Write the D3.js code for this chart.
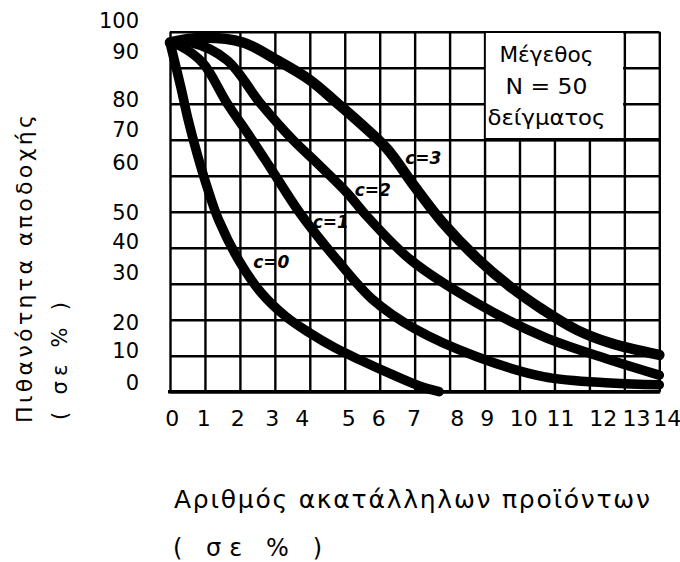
<!DOCTYPE html>
<html>
<head>
<meta charset="utf-8">
<script src="https://cdn.jsdelivr.net/npm/d3@7"></script>
<style>
  html, body { margin: 0; padding: 0; background: #fff; }
  svg { display: block; }
  text { font-family: "DejaVu Sans", "Liberation Sans", sans-serif; fill: #000; }
</style>
</head>
<body>
<script>
// ---------------- data ----------------
const xTickLabels = ["0","1","2","3","4","5","6","7","8","9","10","11","12","13","14"];
const yTickLabels = [0, 10, 20, 30, 40, 50, 60, 70, 80, 90, 100];
const curveNames = ["c=0", "c=1", "c=2", "c=3"];

// defective % (x)  vs  probability of acceptance % (y)
const c0 = [[0,97],[0.31,84.6],[0.52,75.5],[0.77,66.3],[1.06,56.9],[1.4,47.5],[2.0,36],[2.6,27.6],[3.3,21],[4.0,16.3],[4.7,12.3],[5.44,8.8],[6.3,5],[7.16,1.5],[7.7,0]];
const c1 = [[0,97],[0.3,96],[0.94,91.3],[1.63,80.2],[2.29,70.8],[2.86,62.4],[3.72,49.6],[4.78,36.6],[5.81,25.5],[7.0,17.5],[8.78,9.7],[10.68,4.2],[12.6,2.4],[14,1.9]];
const c2 = [[0,97],[0.6,97],[1.63,92.1],[2.58,80.2],[3.52,69.9],[4.21,63.5],[5.07,55.2],[5.64,48.7],[6.9,36.5],[8.78,24.6],[10.68,15.3],[12.6,8.8],[14,4.6]];
const c3 = [[0,97],[0.9,98.3],[2.09,97],[3.06,92.1],[4.0,86.6],[4.78,80.2],[5.44,74.6],[6.21,67.5],[7.0,57],[7.8,47],[8.79,37],[9.73,29.2],[10.68,22.7],[11.65,17.1],[12.6,13.5],[14,10.2]];
const curves = [c0, c1, c2, c3];
// label anchors of each curve, in data units
const curveLabelAt = [[2.9,36.0],[4.6,47.1],[5.8,56.0],[7.25,64.9]];

const boxLines = ["Μέγεθος", "N = 50", "δείγματος"];
const yTitle = "Πιθανότητα αποδοχής";
const yUnit = "( σε % )";
const xTitle = "Αριθμός ακατάλληλων προϊόντων";
const xUnit = "( σε  % )";

// ---------------- layout ----------------
const W = 680, H = 562;
const svg = d3.select("body").append("svg").attr("width", W).attr("height", H);
svg.append("rect").attr("width", W).attr("height", H).attr("fill", "#fff");

const x = d3.scaleLinear().domain([0, 14]).range([170, 659.3]);
const y = d3.scaleLinear().domain([0, 100]).range([391.7, 31.7]);

// hand-lettered tick labels sit a little off the grid lines
const xLab = d3.scaleLinear().domain(d3.range(15))
  .range([171.7,203.3,237.3,271.7,301.7,348.3,378.3,413.5,456.7,486.7,523.3,560,602.7,636,666.7]);
const yLab = d3.scaleLinear().domain(yTickLabels)
  .range([383,351,323,273,242,213,163,130,100,52,21]);

// ---------------- grid ----------------
const grid = svg.append("g");
grid.append("g")
  .attr("transform", `translate(0,${y(0)})`)
  .call(d3.axisBottom(x).tickValues(d3.range(15)).tickSize(-(y(0) - y(100))).tickFormat(""))
  .call(g => g.select(".domain").remove())
  .selectAll("line").attr("stroke", "#000").attr("stroke-width", 2.4);
grid.append("g")
  .attr("transform", `translate(${x(0)},0)`)
  .call(d3.axisLeft(y).tickValues(yTickLabels).tickSize(-(x(14) - x(0))).tickFormat(""))
  .call(g => g.select(".domain").remove())
  .selectAll("line").attr("stroke", "#000").attr("stroke-width", 2.4);
// heavier baseline
svg.append("line").attr("x1", x(0) - 2).attr("x2", x(14) + 1)
  .attr("y1", y(0)).attr("y2", y(0)).attr("stroke", "#000").attr("stroke-width", 3.4);

// sample size box (blank cells)
svg.append("rect")
  .attr("x", x(9) + 1.3).attr("y", y(100) + 1.3)
  .attr("width", x(13) - x(9) - 2.6).attr("height", y(70) - y(100) - 2.6)
  .attr("fill", "#fff");
svg.append("line").attr("x1", x(9)).attr("x2", x(14))
  .attr("y1", y(70)).attr("y2", y(70)).attr("stroke", "#000").attr("stroke-width", 3.2);
const boxCx = (x(9) + x(13)) / 2 - 8;
const boxY = [62, 94, 125];
const boxLen = [94, 82, 118];
boxLines.forEach((t, i) => {
  svg.append("text").attr("x", boxCx).attr("y", boxY[i])
    .attr("text-anchor", "middle").attr("font-size", 21)
    .attr("textLength", boxLen[i]).attr("lengthAdjust", "spacingAndGlyphs")
    .text(t);
});

// ---------------- curves ----------------
const line = d3.line().x(d => x(d[0])).y(d => y(d[1])).curve(d3.curveCatmullRom.alpha(0.5));
svg.append("g").selectAll("path").data(curves).join("path")
  .attr("d", line)
  .attr("fill", "none").attr("stroke", "#000")
  .attr("stroke-width", (d, i) => i === 3 ? 10.5 : 9.5)
  .attr("stroke-linecap", "round").attr("stroke-linejoin", "round");

svg.append("g").selectAll("text").data(curveNames).join("text")
  .attr("x", (d, i) => x(curveLabelAt[i][0]))
  .attr("y", (d, i) => y(curveLabelAt[i][1]) + 6)
  .attr("text-anchor", "middle")
  .attr("font-size", 17).attr("font-weight", "bold").attr("font-style", "italic")
  .attr("font-family", "'Liberation Sans', Arial, sans-serif")
  .text(d => d);

// ---------------- tick labels ----------------
svg.append("g")
  .attr("transform", "translate(0,404)")
  .call(d3.axisBottom(xLab).tickValues(d3.range(15)).tickSize(0).tickPadding(6)
        .tickFormat((d, i) => xTickLabels[i]))
  .call(g => g.select(".domain").remove())
  .selectAll("text").attr("font-size", 22).attr("fill", "#000")
  .attr("font-family", "'Liberation Sans', Arial, sans-serif");

svg.append("g")
  .attr("transform", "translate(141,0)")
  .call(d3.axisLeft(yLab).tickValues(yTickLabels).tickSize(0).tickPadding(2))
  .call(g => g.select(".domain").remove())
  .selectAll("text").attr("font-size", 21).attr("fill", "#000")
  .attr("font-family", "'DejaVu Sans', sans-serif");

// ---------------- titles ----------------
svg.append("text")
  .attr("transform", "translate(32,269) rotate(-90)")
  .attr("text-anchor", "middle").attr("font-size", 22)
  .attr("textLength", 308).attr("lengthAdjust", "spacing")
  .text(yTitle);
svg.append("text")
  .attr("transform", "translate(67,361) rotate(-90)")
  .attr("text-anchor", "middle").attr("font-size", 21)
  .attr("textLength", 118).attr("lengthAdjust", "spacing")
  .text(yUnit);

svg.append("text")
  .attr("x", 174).attr("y", 508).attr("font-size", 25)
  .attr("textLength", 476).attr("lengthAdjust", "spacing")
  .text(xTitle);
svg.append("text")
  .attr("x", 173).attr("y", 556).attr("font-size", 24)
  .attr("textLength", 149).attr("lengthAdjust", "spacing")
  .text(xUnit);
</script>
</body>
</html>
